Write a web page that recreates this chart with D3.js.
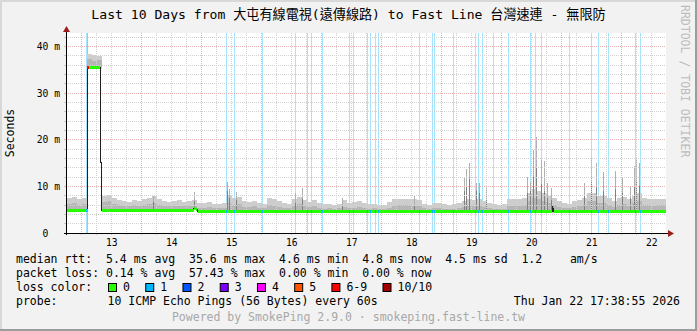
<!DOCTYPE html>
<html>
<head>
<meta charset="utf-8">
<script src="https://cdn.jsdelivr.net/npm/d3@7"></script>
<style>
html, body { margin: 0; padding: 0; background: #f2f2f2; }
svg { display: block; }
text { font-family: "DejaVu Sans Mono", "Noto Sans CJK TC", monospace; white-space: pre; }
</style>
</head>
<body>
<svg id="chart" width="697" height="331"></svg>
<script>
'use strict';

// ---- data ----
var titleText = 'Last 10 Days from 大屯有線電視(遠傳線路) to Fast Line 台灣速連 - 無限防';
var rangeStart = '2026-01-12T17:38:55', rangeEnd = '2026-01-22T17:38:55';

// smoke, 2 hour bins starting 2026-01-12 16:00 (ms)
var binStart = '2026-01-12T16:00';
var smokeTop = [
  7.4, 7.5, 7.8, 7.3, 7.6, 38.5, 38.2, 38.0, 8.0, 8.2, 7.6,
  7.0, 6.8, 6.6, 7.0, 6.8, 7.2, 7.5, 8.0, 7.4, 6.8,
  6.6, 6.8, 7.0, 6.7, 6.9, 7.0, 6.5, 6.4, 6.6, 6.3,
  6.3, 6.4, 8.0, 7.6, 7.8, 6.9, 6.6, 6.9, 6.5, 6.3,
  7.5, 7.2, 6.8, 6.5, 6.3, 7.3, 7.8, 7.0, 6.6, 7.0,
  6.4, 6.2, 6.3, 6.1, 6.3, 7.0, 6.4, 6.6, 6.8, 6.4,
  6.2, 6.3, 6.0, 6.1, 6.6, 7.2, 7.3, 7.2, 7.4, 7.2,
  7.0, 6.3, 6.0, 6.4, 6.5, 6.2, 6.0, 6.2, 6.4, 6.8,
  7.2, 7.0, 7.2, 6.8, 6.5, 6.2, 6.0, 6.3, 7.2, 7.3,
  7.2, 7.5, 8.5, 9.5, 9.0, 8.5, 8.0, 7.5, 6.8, 6.5,
  6.3, 6.8, 7.0, 7.5, 8.5, 8.5, 8.0, 8.0, 7.5, 6.8,
  7.5, 7.8, 7.2, 8.0, 8.5, 7.5, 7.3, 7.2, 7.4, 7.3
];
var smokeMid = [
  6.2, 6.2, 6.4, 6.0, 6.3, 37.3, 37.0, 37.2, 6.6, 6.8, 6.3,
  6.0, 5.8, 5.7, 6.0, 5.8, 6.0, 6.2, 6.5, 6.1, 5.8,
  5.7, 5.8, 5.9, 5.7, 5.8, 5.9, 5.4, 5.3, 5.5, 5.3,
  5.3, 5.4, 6.5, 6.0, 6.2, 5.6, 5.5, 5.7, 5.4, 5.3,
  6.0, 5.9, 5.6, 5.4, 5.3, 5.9, 6.2, 5.8, 5.5, 5.7,
  5.3, 5.2, 5.3, 5.2, 5.3, 5.6, 5.3, 5.4, 5.5, 5.3,
  5.2, 5.3, 5.1, 5.2, 5.4, 5.8, 6.0, 6.0, 6.1, 5.9,
  5.7, 5.3, 5.1, 5.3, 5.4, 5.2, 5.1, 5.2, 5.3, 5.6,
  6.0, 5.8, 5.9, 5.6, 5.4, 5.2, 5.1, 5.2, 5.8, 5.9,
  5.9, 6.1, 6.8, 7.5, 7.2, 6.8, 6.4, 6.0, 5.6, 5.4,
  5.3, 5.6, 5.8, 6.1, 6.8, 6.8, 6.4, 6.4, 6.1, 5.6,
  6.1, 6.3, 5.9, 6.5, 6.8, 6.1, 6.0, 5.9, 6.0, 6.0
];

// narrow smoke spikes: [time, max ms, inner ms]
var spikes = [
  ['2026-01-14T04:30', 8.0, 6.6], ['2026-01-14T20:55', 8.7, 6.8],
  ['2026-01-15T10:07', 11.0, 9.0], ['2026-01-15T10:55', 9.5, 7.5],
  ['2026-01-15T14:00', 8.9, 7.0], ['2026-01-16T13:20', 8.5, 6.5],
  ['2026-01-16T16:07', 9.6, 7.2], ['2026-01-17T08:07', 7.6, 6.0],
  ['2026-01-18T13:00', 8.0, 6.0], ['2026-01-19T08:55', 12.0, 9.0],
  ['2026-01-19T09:43', 13.7, 10.0], ['2026-01-19T10:55', 15.0, 11.5],
  ['2026-01-19T14:00', 10.7, 9.0], ['2026-01-19T14:55', 10.7, 8.5],
  ['2026-01-19T17:43', 10.0, 7.0], ['2026-01-20T10:07', 12.0, 8.5],
  ['2026-01-20T11:36', 11.0, 9.0], ['2026-01-20T12:31', 17.8, 12.0],
  ['2026-01-20T14:00', 20.7, 14.0], ['2026-01-20T16:00', 15.7, 10.5],
  ['2026-01-20T16:55', 15.5, 9.0], ['2026-01-20T18:07', 10.7, 7.5],
  ['2026-01-20T20:00', 9.6, 7.0], ['2026-01-21T08:55', 10.7, 8.0],
  ['2026-01-21T12:00', 16.4, 11.0], ['2026-01-21T14:00', 15.0, 10.0],
  ['2026-01-21T16:31', 13.0, 9.0], ['2026-01-21T21:36', 13.4, 9.5],
  ['2026-01-22T00:07', 12.0, 8.5], ['2026-01-22T03:19', 10.0, 7.5],
  ['2026-01-22T04:55', 14.3, 10.0], ['2026-01-22T05:55', 15.7, 11.0],
  ['2026-01-22T06:55', 15.0, 10.0]
];

// median rtt change points: [time, ms]
var medianSteps = [
  ['2026-01-12T17:38', 4.9], ['2026-01-13T02:16', 35.6], ['2026-01-13T07:26', 15.2],
  ['2026-01-13T07:50', 4.9], ['2026-01-14T20:40', 5.2], ['2026-01-14T21:30', 4.95],
  ['2026-01-14T22:10', 4.65], ['2026-01-20T20:10', 5.7], ['2026-01-20T20:40', 4.65]
];

// loss events: [time, pings lost of 10]
var lossEvents = [
  ['2026-01-13T01:50', 1], ['2026-01-13T02:19', 6],
  ['2026-01-15T09:50', 1], ['2026-01-15T13:02', 1], ['2026-01-16T00:14', 1],
  ['2026-01-16T13:26', 1], ['2026-01-16T18:14', 1], ['2026-01-16T19:50', 1],
  ['2026-01-17T00:14', 1], ['2026-01-17T11:02', 1], ['2026-01-17T12:38', 1],
  ['2026-01-17T18:14', 1], ['2026-01-17T19:26', 1], ['2026-01-17T21:26', 1],
  ['2026-01-17T22:38', 1], ['2026-01-18T15:02', 1], ['2026-01-18T20:14', 1],
  ['2026-01-18T21:02', 1], ['2026-01-19T04:38', 1], ['2026-01-19T13:26', 1],
  ['2026-01-19T14:38', 1], ['2026-01-19T16:14', 1], ['2026-01-19T20:38', 1],
  ['2026-01-20T02:38', 1], ['2026-01-20T11:26', 1], ['2026-01-20T13:26', 1],
  ['2026-01-20T15:50', 1], ['2026-01-21T03:02', 1], ['2026-01-21T11:50', 1],
  ['2026-01-21T14:38', 1], ['2026-01-21T18:38', 1], ['2026-01-22T05:26', 1],
  ['2026-01-22T07:26', 1]
];

var lossLabels = ['0', '1', '2', '3', '4', '5', '6-9', '10/10'];
var lossColors = ['#26ff00', '#00b8ff', '#0059ff', '#7e00ff', '#ff00ff', '#ff5500', '#ff0000', '#a10000'];

var yTicksMajor = [0, 10, 20, 30, 40];
var yTickLabels = ['0  ', '10 m', '20 m', '30 m', '40 m'];

var legendRows = [
  'median rtt:  5.4 ms avg  35.6 ms max  4.6 ms min  4.8 ms now  4.5 ms sd  1.2    am/s',
  'packet loss: 0.14 % avg  57.43 % max  0.00 % min  0.00 % now'
];
var probeText = '10 ICMP Echo Pings (56 Bytes) every 60s';
var dateText = 'Thu Jan 22 17:38:55 2026';
var footerText = 'Powered by SmokePing 2.9.0 · smokeping.fast-line.tw';

// ---- drawing ----
var W = 697, H = 331;
var plot = {x0: 66, x1: 666, y0: 33, y1: 233};
var parseMin = d3.utcParse('%Y-%m-%dT%H:%M');
var parseSec = d3.utcParse('%Y-%m-%dT%H:%M:%S');
var t0 = parseSec(rangeStart), t1 = parseSec(rangeEnd);

var x = d3.scaleUtc().domain([t0, t1]).range([plot.x0, plot.x1]);
var y = d3.scaleLinear().domain([0, 42.92]).range([plot.y1, plot.y0]);
var px = function (v) { return Math.floor(v) + 0.5; };

var svg = d3.select('#chart');

svg.append('rect').attr('width', W).attr('height', H).attr('fill', '#f2f2f2');
// 3d frame
svg.append('path').attr('d', 'M1,' + H + 'V1H' + W).attr('fill', 'none')
  .attr('stroke', '#d8d8d8').attr('stroke-width', 2);
svg.append('path').attr('d', 'M0,' + (H - 1) + 'H' + (W - 1) + 'V0').attr('fill', 'none')
  .attr('stroke', '#9c9c9c').attr('stroke-width', 2);

svg.append('rect')
  .attr('x', plot.x0).attr('y', plot.y0)
  .attr('width', plot.x1 - plot.x0).attr('height', plot.y1 - plot.y0)
  .attr('fill', '#ffffff');

svg.append('clipPath').attr('id', 'clip').append('rect')
  .attr('x', plot.x0).attr('y', plot.y0)
  .attr('width', plot.x1 - plot.x0).attr('height', plot.y1 - plot.y0);

var g = svg.append('g').attr('clip-path', 'url(#clip)').attr('shape-rendering', 'crispEdges');

// loss background lines
g.append('g').selectAll('line').data(lossEvents).join('line')
  .attr('x1', function (d) { return px(x(parseMin(d[0]))); })
  .attr('x2', function (d) { return px(x(parseMin(d[0]))); })
  .attr('y1', plot.y0).attr('y2', plot.y1)
  .attr('stroke', function (d) { return lossColors[d[1] >= 6 ? 6 : d[1]]; })
  .attr('stroke-opacity', 0.36);

// median lookup
var medianAt = function (t) {
  var i = d3.bisector(function (d) { return parseMin(d[0]); }).right(medianSteps, t) - 1;
  return medianSteps[Math.max(0, i)][1];
};

var b0 = parseMin(binStart);
var bins = smokeTop.map(function (v, i) {
  var ta = d3.utcHour.offset(b0, 2 * i), tb = d3.utcHour.offset(b0, 2 * i + 2);
  return {ta: ta, tb: tb, top: v, mid: smokeMid[i], base: medianAt(d3.utcHour.offset(ta, 1))};
});

g.append('g').selectAll('rect').data(bins).join('rect')
  .attr('x', function (d) { return Math.round(x(d.ta)); })
  .attr('width', function (d) { return Math.round(x(d.tb)) - Math.round(x(d.ta)); })
  .attr('y', function (d) { return Math.round(y(d.top)); })
  .attr('height', function (d) { return Math.max(0, Math.round(y(d.base - 0.3)) - Math.round(y(d.top))); })
  .attr('fill', '#cdcdcd');
g.append('g').selectAll('rect').data(bins).join('rect')
  .attr('x', function (d) { return Math.round(x(d.ta)); })
  .attr('width', function (d) { return Math.round(x(d.tb)) - Math.round(x(d.ta)); })
  .attr('y', function (d) { return Math.round(y(d.mid)); })
  .attr('height', function (d) { return Math.max(0, Math.round(y(d.base)) - Math.round(y(d.mid))); })
  .attr('fill', '#b6b6b6');

var sp = g.append('g');
sp.selectAll('rect.hi').data(spikes).join('rect').attr('class', 'hi')
  .attr('x', function (d) { return Math.floor(x(parseMin(d[0]))); })
  .attr('width', 1)
  .attr('y', function (d) { return Math.round(y(d[1])); })
  .attr('height', function (d) { return Math.round(y(medianAt(parseMin(d[0])))) - Math.round(y(d[1])); })
  .attr('fill', '#b0b0b0');
sp.selectAll('rect.lo').data(spikes).join('rect').attr('class', 'lo')
  .attr('x', function (d) { return Math.floor(x(parseMin(d[0]))); })
  .attr('width', 1)
  .attr('y', function (d) { return Math.round(y(d[2])); })
  .attr('height', function (d) { return Math.round(y(medianAt(parseMin(d[0])))) - Math.round(y(d[2])); })
  .attr('fill', '#808080');

// grid
var grid = g.append('g').attr('stroke-dasharray', '1,1');
var minorT = d3.utcHour.every(6).range(t0, t1);
grid.selectAll('line.vx').data(minorT.filter(function (t) { return t.getUTCHours() !== 0; })).join('line')
  .attr('x1', function (d) { return px(x(d)); }).attr('x2', function (d) { return px(x(d)); })
  .attr('y1', plot.y0).attr('y2', plot.y1).attr('stroke', '#d2d2d2');
grid.selectAll('line.hy').data(d3.range(2, 43, 2).filter(function (v) { return v % 10 !== 0; })).join('line')
  .attr('y1', function (d) { return px(y(d)); }).attr('y2', function (d) { return px(y(d)); })
  .attr('x1', plot.x0).attr('x2', plot.x1).attr('stroke', '#d2d2d2');
var majorT = d3.utcDay.range(t0, t1);
grid.selectAll('line.mx').data(majorT).join('line')
  .attr('x1', function (d) { return px(x(d)); }).attr('x2', function (d) { return px(x(d)); })
  .attr('y1', plot.y0).attr('y2', plot.y1).attr('stroke', '#e8b4b4');
grid.selectAll('line.my').data(yTicksMajor.slice(1)).join('line')
  .attr('y1', function (d) { return px(y(d)); }).attr('y2', function (d) { return px(y(d)); })
  .attr('x1', plot.x0).attr('x2', plot.x1).attr('stroke', '#e8b4b4');

// median line: thin dark line, then loss coloured thick line
var medPts = medianSteps.map(function (d) { return [parseMin(d[0]), d[1]]; });
medPts.push([t1, medianSteps[medianSteps.length - 1][1]]);
var medLine = d3.line().curve(d3.curveStepAfter)
  .x(function (d) { return x(d[0]); }).y(function (d) { return y(d[1]); });
g.append('path').datum(medPts).attr('d', medLine)
  .attr('fill', 'none').attr('stroke', '#202020').attr('stroke-width', 1);
// green (no loss) segments: horizontal parts only
var segs = medPts.slice(0, -1).map(function (d, i) { return [d, [medPts[i + 1][0], d[1]]]; });
g.append('g').selectAll('line').data(segs).join('line')
  .attr('x1', function (d) { return x(d[0][0]) + 0.5; }).attr('x2', function (d) { return x(d[1][0]); })
  .attr('y1', function (d) { return y(d[0][1]); }).attr('y2', function (d) { return y(d[1][1]); })
  .attr('stroke', lossColors[0]).attr('stroke-width', 3);
g.append('g').selectAll('rect').data(lossEvents).join('rect')
  .attr('x', function (d) { return Math.floor(x(parseMin(d[0]))); })
  .attr('width', function (d) { return d[1] >= 6 ? 2 : 1; })
  .attr('y', function (d) { return Math.round(y(medianAt(parseMin(d[0])))) - 1.5; })
  .attr('height', 3)
  .attr('fill', function (d) { return lossColors[d[1] >= 6 ? 6 : d[1]]; });

// axes
var ax = svg.append('g').attr('shape-rendering', 'crispEdges');
ax.selectAll('line.tx').data(minorT).join('line')
  .attr('x1', function (d) { return px(x(d)); }).attr('x2', function (d) { return px(x(d)); })
  .attr('y1', plot.y1).attr('y2', plot.y1 + 2)
  .attr('stroke', function (d) { return d.getUTCHours() === 0 ? '#e8b4b4' : '#c8c8c8'; });
ax.selectAll('line.ty').data(d3.range(0, 43, 2)).join('line')
  .attr('y1', function (d) { return px(y(d)); }).attr('y2', function (d) { return px(y(d)); })
  .attr('x1', plot.x0 - 2).attr('x2', plot.x0)
  .attr('stroke', function (d) { return d % 10 === 0 ? '#e8b4b4' : '#c8c8c8'; });
ax.append('line').attr('x1', plot.x0 - 2).attr('x2', plot.x1 + 4)
  .attr('y1', px(plot.y1)).attr('y2', px(plot.y1)).attr('stroke', '#000');
ax.append('line').attr('x1', px(plot.x0)).attr('x2', px(plot.x0))
  .attr('y1', plot.y1 + 2).attr('y2', plot.y0 - 3).attr('stroke', '#000');
svg.append('path').attr('fill', '#9b1c1c')
  .attr('d', 'M' + (plot.x1 + 2) + ',' + (plot.y1 - 3) + 'L' + (plot.x1 + 8) + ',' + (plot.y1 + 0.5) + 'L' + (plot.x1 + 2) + ',' + (plot.y1 + 4) + 'Z');
svg.append('path').attr('fill', '#9b1c1c')
  .attr('d', 'M' + (plot.x0 - 3) + ',' + (plot.y0 - 1) + 'L' + (plot.x0 + 0.5) + ',' + (plot.y0 - 7) + 'L' + (plot.x0 + 4) + ',' + (plot.y0 - 1) + 'Z');

var dayLabels = d3.utcDay.range(t0, t1).map(function (d) { return d3.utcHour.offset(d, 12); })
  .filter(function (d) { return d < t1; });
svg.append('g').selectAll('text').data(dayLabels).join('text')
  .attr('x', function (d) { return x(d); }).attr('y', 246)
  .attr('text-anchor', 'middle').attr('font-size', '9.7px').attr('fill', '#000')
  .text(d3.utcFormat('%d'));
svg.append('g').selectAll('text').data(yTicksMajor).join('text')
  .attr('x', 60).attr('y', function (d) { return y(d) + 3.5; })
  .attr('text-anchor', 'end').attr('font-size', '9.7px').attr('fill', '#000')
  .text(function (d, i) { return yTickLabels[i]; });

svg.append('text').attr('transform', 'translate(14,133) rotate(-90)')
  .attr('text-anchor', 'middle').attr('font-size', '11.5px').text('Seconds');
svg.append('text').attr('transform', 'translate(681,5) rotate(90)')
  .attr('font-size', '11.5px').attr('fill', '#bcbcbc').text('RRDTOOL / TOBI OETIKER');

svg.append('text').attr('x', W / 2).attr('y', 19).attr('text-anchor', 'middle')
  .attr('font-size', '13.1px').text(titleText);

// legend
var lg = svg.append('g').attr('font-size', '11.5px').attr('fill', '#000');
lg.selectAll('text.row').data(legendRows).join('text').attr('class', 'row')
  .attr('x', 16).attr('y', function (d, i) { return 263 + i * 14; }).text(function (d) { return d; });
lg.append('text').attr('x', 16).attr('y', 291).text('loss color:');
var cx = 108;
lossLabels.forEach(function (l, i) {
  lg.append('rect').attr('x', cx + 0.5).attr('y', 283.5).attr('width', 8).attr('height', 8)
    .attr('fill', lossColors[i]).attr('stroke', '#000').attr('stroke-width', 1);
  var t = lg.append('text').attr('x', cx + 15).attr('y', 291).text(l);
  cx = cx + 15 + t.node().getComputedTextLength() + 15.3;
});
lg.append('text').attr('x', 16).attr('y', 305).text('probe:');
lg.append('text').attr('x', 107.6).attr('y', 305).text(probeText);
lg.append('text').attr('x', 680).attr('y', 305).attr('text-anchor', 'end').text(dateText);
svg.append('text').attr('x', W / 2).attr('y', 321).attr('text-anchor', 'middle')
  .attr('font-size', '11.5px').attr('fill', '#a8a8a8').text(footerText);
</script>
</body>
</html>
